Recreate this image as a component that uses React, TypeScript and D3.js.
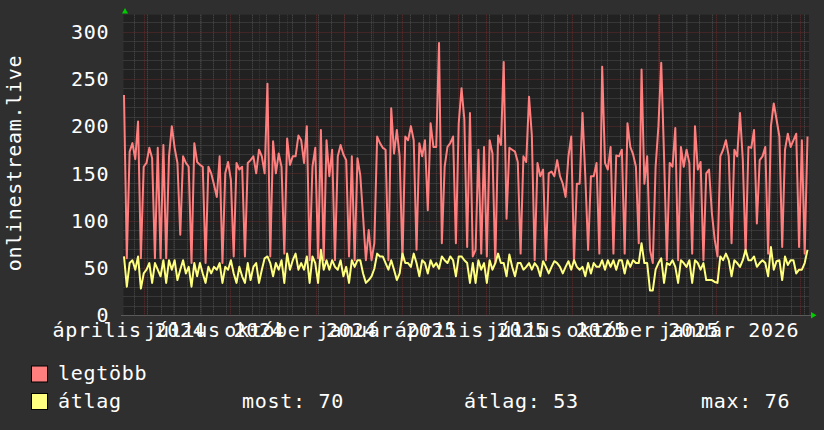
import * as d3 from 'd3';

// legtöbb (max) per 3 days, starting 2024-04-10
const maxValues: number[] = [
  233, 60, 173, 182, 165, 205, 60, 157, 161, 177, 166, 60, 177, 60, 180, 60, 168, 200, 177, 161,
  85, 168, 161, 157, 55, 182, 162, 159, 157, 55, 157, 150, 138, 125, 168, 55, 150, 162, 143, 62,
  161, 154, 157, 62, 161, 164, 168, 150, 175, 168, 150, 245, 62, 184, 150, 171, 157, 65, 187, 159,
  168, 168, 190, 185, 161, 200, 58, 157, 177, 60, 196, 58, 185, 147, 175, 58, 168, 180, 170, 164,
  62, 168, 58, 166, 148, 104, 58, 90, 58, 76, 189, 182, 177, 175, 58, 219, 171, 196, 168, 58,
  189, 185, 200, 185, 69, 182, 168, 185, 111, 203, 178, 178, 288, 76, 157, 178, 182, 189, 76, 203,
  240, 207, 72, 214, 62, 69, 175, 65, 178, 62, 185, 171, 55, 190, 180, 268, 102, 177, 175, 173,
  162, 65, 168, 162, 231, 190, 58, 161, 147, 154, 58, 150, 152, 147, 164, 147, 139, 125, 168, 189,
  58, 139, 139, 214, 147, 69, 147, 147, 161, 65, 263, 161, 154, 178, 65, 169, 168, 175, 65, 203,
  178, 170, 157, 76, 260, 139, 168, 69, 55, 157, 200, 267, 168, 58, 161, 157, 198, 58, 178, 157,
  175, 161, 65, 200, 154, 162, 58, 150, 154, 108, 80, 62, 168, 175, 185, 168, 76, 175, 168, 214,
  164, 65, 178, 177, 196, 97, 164, 168, 178, 65, 200, 224, 207, 189, 72, 175, 192, 178, 185, 192,
  72, 185, 65, 189,
];

// átlag (average) per 3 days
const avgValues: number[] = [
  62, 30, 55, 58, 48, 62, 28, 44, 48, 55, 34, 55, 48, 41, 58, 34, 58, 48, 58, 37,
  48, 58, 44, 51, 30, 55, 41, 55, 44, 34, 51, 44, 51, 48, 55, 34, 51, 48, 58, 44,
  34, 51, 41, 34, 55, 37, 51, 55, 34, 48, 60, 62, 55, 41, 55, 48, 58, 34, 65, 48,
  58, 65, 48, 55, 48, 62, 34, 62, 55, 34, 69, 48, 58, 48, 58, 51, 48, 58, 41, 51,
  34, 58, 51, 58, 58, 44, 34, 37, 41, 49, 65, 62, 62, 55, 48, 58, 48, 37, 44, 65,
  55, 55, 51, 65, 55, 41, 58, 55, 44, 58, 51, 55, 49, 62, 58, 55, 62, 58, 41, 62,
  62, 58, 55, 34, 55, 34, 58, 48, 55, 34, 58, 48, 55, 65, 55, 55, 41, 64, 51, 41,
  55, 55, 48, 51, 55, 48, 55, 51, 41, 57, 51, 44, 51, 57, 55, 51, 44, 51, 57, 48,
  58, 51, 48, 51, 41, 55, 44, 55, 51, 51, 58, 48, 58, 51, 58, 48, 58, 58, 44, 58,
  51, 58, 55, 55, 76, 55, 55, 26, 26, 48, 55, 60, 34, 55, 53, 58, 51, 34, 58, 55,
  51, 58, 34, 58, 55, 48, 55, 37, 37, 37, 35, 34, 62, 58, 65, 58, 41, 58, 55, 51,
  58, 69, 58, 58, 62, 51, 55, 58, 55, 41, 72, 48, 57, 58, 37, 62, 53, 58, 58, 44,
  48, 48, 55, 69,
];

const seriesNames = ['legtöbb', 'átlag'];
const seriesColors = ['#ff7f7f', '#ffff7f'];
const statLabels = ['most: 70', 'átlag: 53', 'max: 76'];

const labelMonths = ['2024-04-01', '2024-07-01', '2024-10-01', '2025-01-01', '2025-04-01', '2025-07-01', '2025-10-01', '2026-01-01'];
const labelTexts = ['április 2024', 'július 2024', 'október 2024', 'január 2025', 'április 2025', 'július 2025', 'október 2025', 'január 2026'];

const yTicks = [0, 50, 100, 150, 200, 250, 300];
const yTitle = 'onlinestream.live';

const DAY = 24 * 3600 * 1000;
const start = Date.UTC(2024, 3, 10);
const dates = maxValues.map((_, i) => new Date(start + i * 3 * DAY));

const width = 824;
const height = 430;
const fontFamily = '"DejaVu Sans Mono", monospace';
const fs = 20;
const ls = 0.7;

function App() {
  const x = d3.scaleUtc([dates[0], dates[dates.length - 1]], [124, 807.5]);
  const y = d3.scaleLinear([0, 318], [315, 14.7]);
  const left = 123.5;
  const right = 809;
  const top = 14.7;
  const bottom = 315;

  const end = new Date(start + 730 * DAY);
  const biweekly = d3.utcDay.range(new Date(Date.UTC(2024, 3, 21)), end, 14);
  const months = d3.utcMonth.range(new Date(start), end);
  const minorY = d3.range(10, 320, 10).filter(v => v % 50 !== 0 && y(v) > top);

  const line = d3.line<number>((_, i) => x(dates[i]), d => y(d));

  return (
    <svg width={width} height={height} style={{ display: 'block', position: 'absolute', left: 0, top: 0 }}
      fontFamily={fontFamily}>
      <rect x={0} y={0} width={width} height={height} fill="#2f2f2f" />
      <rect x={left} y={top} width={right - left} height={bottom - top} fill="#212121" />

      {/* minor grid */}
      <g stroke="#4f4f4f" strokeWidth={1} strokeDasharray="1,1">
        {minorY.map(v => (
          <line key={'my' + v} x1={left} x2={right} y1={Math.round(y(v)) + 0.5} y2={Math.round(y(v)) + 0.5} />
        ))}
        {biweekly.map(d => (
          <line key={'mx' + d.getTime()} x1={Math.round(x(d)) + 0.5} x2={Math.round(x(d)) + 0.5} y1={top} y2={bottom} />
        ))}
      </g>
      {/* major grid */}
      <g stroke="#642a2a" strokeWidth={1} strokeDasharray="1,1">
        {yTicks.slice(1).map(v => (
          <line key={'My' + v} x1={left} x2={right} y1={Math.round(y(v)) + 0.5} y2={Math.round(y(v)) + 0.5} />
        ))}
        {months.map(d => (
          <line key={'Mx' + d.getTime()} x1={Math.round(x(d)) + 0.5} x2={Math.round(x(d)) + 0.5} y1={top} y2={bottom + 2} />
        ))}
      </g>

      <path d={line(maxValues) ?? undefined} fill="none" stroke={seriesColors[0]} strokeWidth={2} strokeLinejoin="round" />
      <path d={line(avgValues) ?? undefined} fill="none" stroke={seriesColors[1]} strokeWidth={2} strokeLinejoin="round" />

      {/* axis */}
      <line x1={121} x2={811} y1={bottom + 0.5} y2={bottom + 0.5} stroke="#5a5a5a" strokeWidth={1} />
      <polygon points={`122,13.5 128,13.5 125,8`} fill="#00cc00" />
      <polygon points={`811,312 811,318.5 816.5,315.2`} fill="#00cc00" />

      <g fill="#ffffff" fontSize={fs} letterSpacing={ls}>
        {yTicks.map(v => (
          <text key={'yl' + v} x={108.5 + ls} y={y(v) + fs * 0.364} textAnchor="end">{v}</text>
        ))}
        {labelMonths.map((m, i) => (
          <text key={'xl' + m} x={x(new Date(Date.parse(m) + 14 * DAY)) + ls / 2} y={337} textAnchor="middle">
            {labelTexts[i]}
          </text>
        ))}
        <text transform={`translate(21,163) rotate(-90)`} textAnchor="middle">{yTitle}</text>

        {seriesNames.map((name, i) => (
          <g key={name}>
            <rect x={31.5} y={366 + i * 27.5} width={16} height={16} fill={seriesColors[i]} stroke="#000" strokeWidth={1} />
            <text x={58} y={380 + i * 28}>{name}</text>
          </g>
        ))}
        <text x={242} y={408}>{statLabels[0]}</text>
        <text x={464} y={408}>{statLabels[1]}</text>
        <text x={701} y={408}>{statLabels[2]}</text>
      </g>
    </svg>
  );
}

export default App;
